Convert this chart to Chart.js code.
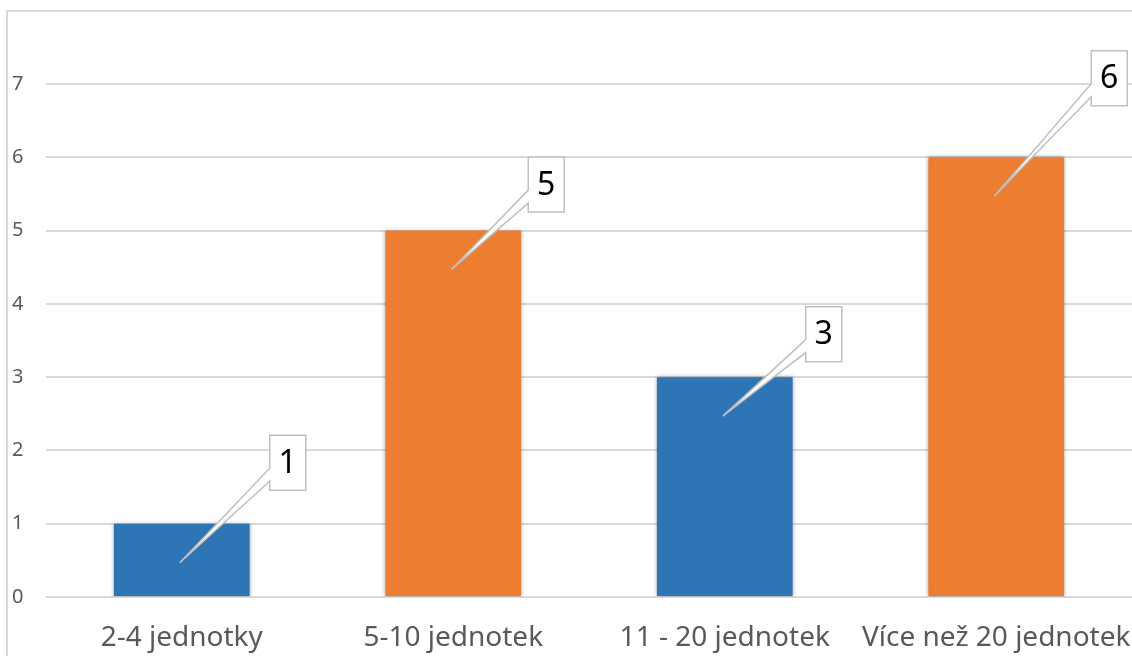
<!DOCTYPE html>
<html>
<head>
<meta charset="utf-8">
<script src="https://cdn.jsdelivr.net/npm/chart.js@4/dist/chart.umd.min.js"></script>
<style>
  html, body { margin: 0; padding: 0; background: #ffffff; }
  #wrap { width: 1132px; height: 656px; position: relative; }
</style>
</head>
<body>
<div id="wrap"><canvas id="c" width="1132" height="656"></canvas></div>
<script>
// ---- data ----
const categories = ['2-4 jednotky', '5-10 jednotek', '11 - 20 jednotek', 'Více než 20 jednotek'];
const counts = [1, 5, 3, 6];
const yMin = 0;
const yMax = 7;
const yStep = 1;

// ---- styling ----
const barColors = ['#2E75B6', '#ED7D31', '#2E75B6', '#ED7D31'];
const FONT = '"Noto Sans", "Open Sans", sans-serif';

// callout placement relative to bar top centre (manual label positions, in px)
const calloutOffsets = [[106, -61], [93, -46], [99, -43], [113, -79]];

const frameBorder = {
  id: 'frameBorder',
  beforeDraw(chart) {
    const ctx = chart.ctx;
    ctx.save();
    ctx.strokeStyle = '#d9d9d9';
    ctx.lineWidth = 2;
    ctx.beginPath();
    ctx.moveTo(7, chart.height);
    ctx.lineTo(7, 11);
    ctx.lineTo(chart.width, 11);
    ctx.stroke();
    ctx.restore();
  }
};

const barShadow = {
  id: 'barShadow',
  beforeDatasetDraw(chart) {
    const ctx = chart.ctx;
    ctx.save();
    ctx.shadowColor = 'rgba(0,0,0,0.35)';
    ctx.shadowBlur = 4;
    ctx.shadowOffsetX = 0;
    ctx.shadowOffsetY = 0;
  },
  afterDatasetDraw(chart) {
    chart.ctx.restore();
  }
};

const callouts = {
  id: 'callouts',
  afterDatasetsDraw(chart) {
    const ctx = chart.ctx;
    const meta = chart.getDatasetMeta(0);
    const values = chart.data.datasets[0].data;
    const w = 36, h = 55;
    meta.data.forEach((bar, i) => {
      const off = calloutOffsets[i];
      const cx = bar.x + off[0];
      const cy = bar.y + off[1];
      const l = cx - w / 2, r = cx + w / 2, t = cy - h / 2, b = cy + h / 2;
      const tipX = bar.x - 2;
      const tipY = bar.y + 39;
      ctx.save();
      ctx.beginPath();
      ctx.moveTo(l, t);
      ctx.lineTo(r, t);
      ctx.lineTo(r, b);
      ctx.lineTo(l, b);
      ctx.lineTo(l, b - 9);
      ctx.lineTo(tipX, tipY);
      ctx.lineTo(l, b - 22);
      ctx.closePath();
      ctx.fillStyle = '#ffffff';
      ctx.fill();
      ctx.strokeStyle = '#bfbfbf';
      ctx.lineWidth = 1.5;
      ctx.lineJoin = 'miter';
      ctx.stroke();
      ctx.fillStyle = '#000000';
      ctx.font = '32px ' + FONT;
      ctx.textAlign = 'center';
      ctx.textBaseline = 'middle';
      ctx.fillText(String(values[i]), cx, cy + 1);
      ctx.restore();
    });
  }
};

new Chart(document.getElementById('c'), {
  type: 'bar',
  data: {
    labels: categories,
    datasets: [{
      data: counts,
      backgroundColor: barColors,
      borderWidth: 0,
      barPercentage: 0.5,
      categoryPercentage: 1.0
    }]
  },
  options: {
    responsive: false,
    animation: false,
    devicePixelRatio: 1,
    layout: { padding: { left: 12, top: 84, right: 0, bottom: 0 } },
    plugins: {
      legend: { display: false },
      tooltip: { enabled: false },
      title: { display: false }
    },
    scales: {
      x: {
        grid: { display: false },
        border: { display: false },
        ticks: {
          color: '#595959',
          font: { family: FONT, size: 28 },
          padding: 16,
          maxRotation: 0,
          autoSkip: false
        },
        afterFit(scale) {
          scale.height = 59;
          scale.paddingLeft = 0;
          scale.paddingRight = 0;
        }
      },
      y: {
        min: yMin,
        max: yMax,
        grid: { color: '#d9d9d9', lineWidth: 2, drawTicks: false },
        border: { display: false },
        ticks: {
          stepSize: yStep,
          color: '#595959',
          font: { family: FONT, size: 20 },
          crossAlign: 'far',
          padding: 0
        },
        afterFit(scale) {
          scale.width = 34;
          scale.paddingTop = 0;
          scale.paddingBottom = 0;
        }
      }
    }
  },
  plugins: [frameBorder, barShadow, callouts]
});
</script>
</body>
</html>
